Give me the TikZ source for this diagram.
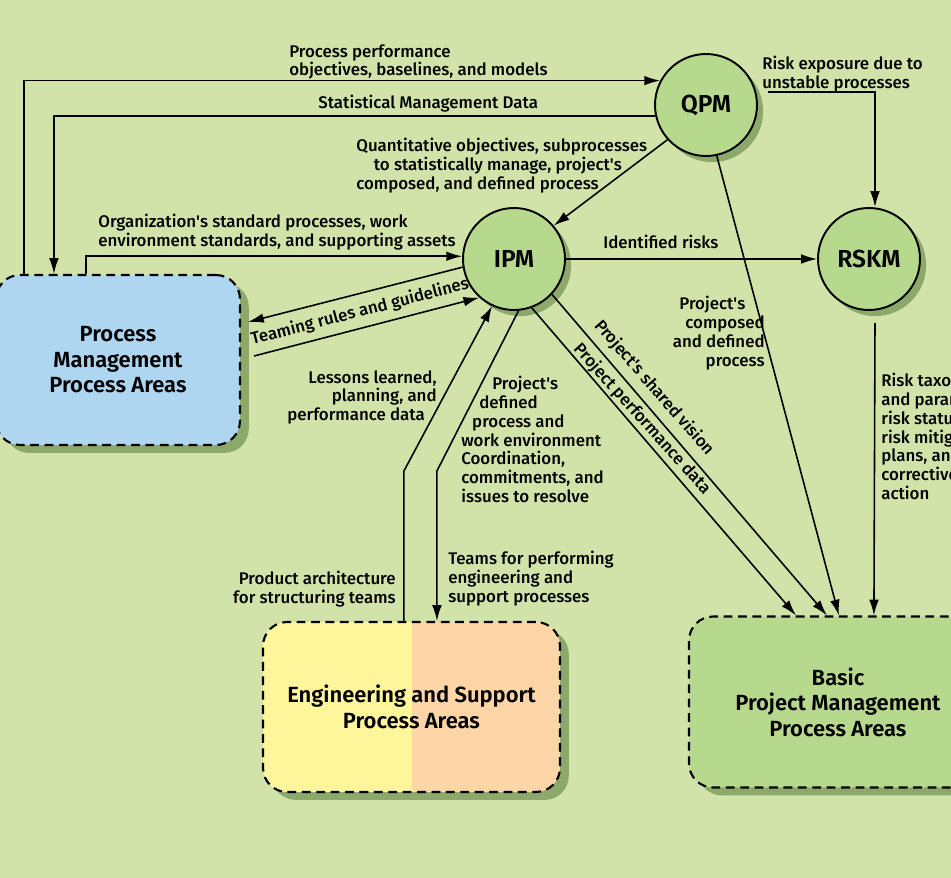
\documentclass[tikz,border=0pt]{standalone}
\usepackage{fontspec}
\setmainfont{Fira Sans}[UprightFont=* Medium, BoldFont=* SemiBold]
\usetikzlibrary{arrows.meta}
\usetikzlibrary{shadows}
\usetikzlibrary{calc}
\definecolor{bggreen}{HTML}{D1E3A9}
\definecolor{pagreen}{HTML}{B7D98E}
\definecolor{shadegreen}{HTML}{8CA96B}
\definecolor{pablue}{HTML}{AED6F0}
\definecolor{payellow}{HTML}{FFF59B}
\definecolor{papeach}{HTML}{FDD5A6}
\newcommand{\ap}{\textquotesingle}
\tikzset{>={Latex[length=9pt,width=5.5pt]}}
\tikzset{pa/.style = {shape=circle,draw,line width=1.1pt,fill=pagreen,minimum size=2.04cm,inner sep=0pt,
  font=\fontsize{14}{16}\selectfont\bfseries,
  drop shadow={shadow xshift=3.5pt,shadow yshift=-3.5pt,fill=shadegreen,opacity=1}}}
\tikzset{area/.style = {rectangle,draw,line width=1.2pt,dash pattern=on 5pt off 3.2pt,rounded corners=0.48cm,
  align=center,font=\fontsize{12.5}{14.5}\selectfont\bfseries,
  drop shadow={shadow xshift=5pt,shadow yshift=-4.5pt,fill=shadegreen,opacity=1}}}
\tikzset{info/.style = {inner sep=0pt,font=\fontsize{9.6}{10.7}\selectfont}}
\tikzset{flow/.style = {->,line width=0.9pt}}

\begin{document}
\begin{tikzpicture}[x=0.02cm,y=-0.02cm]
    \useasboundingbox (0,0) rectangle (951,878);
    \clip (0,0) rectangle (951,878);
    \fill[bggreen] (0,0) rectangle (951,878);

    \node[pa] (QPM) at (706,105) {QPM};
    \node[pa] (IPM) at (514,259) {IPM};
    \node[pa] (RSKM) at (869,259) {RSKM};

    \node[area,fill=pablue,minimum width=4.88cm,minimum height=3.4cm] (PMPA) at (118,360) {Process\\Management\\Process Areas};
    \node[area,minimum width=5.94cm,minimum height=3.4cm,
      path picture={\fill[payellow,sharp corners] (path picture bounding box.south west) rectangle (path picture bounding box.north);
                    \fill[papeach,sharp corners] (path picture bounding box.south) rectangle (path picture bounding box.north east);}]
      (ESPA) at (411.5,707) {Engineering and Support\\Process Areas};
    \node[area,fill=pagreen,minimum width=5.96cm,minimum height=3.42cm] (BPMPA) at (838,702) {Basic\\Project Management\\Process Areas};

    \coordinate (RE) at (768,92);

    \draw[flow] ([xshift=0.58cm]PMPA.north west) |- (QPM.152);
    \draw[flow] (QPM.192) -| ([xshift=1.18cm]PMPA.north west);
    \draw[flow] ([xshift=1.82cm]PMPA.north west) |- (IPM.177);
    \draw[flow] (QPM.222) -- (IPM.40);
    \draw[flow] (IPM.east) -- (RSKM.west);
    \draw[flow] (RE) -| ([xshift=0.12cm]RSKM.north);
    \draw[flow] ([xshift=0.12cm,yshift=-0.24cm]RSKM.south) -- ([xshift=3.72cm]BPMPA.north west);
    \draw[flow] (QPM.-78) -- ([xshift=3.02cm]BPMPA.north west);
    \draw[flow] (IPM.-43) -- ([xshift=2.78cm]BPMPA.north west);
    \draw[flow] (IPM.-70) -- ([xshift=2.16cm]BPMPA.north west);
    \draw[flow] (IPM.189) -- ([xshift=0.14cm,yshift=0.76cm]PMPA.east);
    \draw[flow] ([xshift=0.26cm,yshift=0.08cm]PMPA.east) -- (IPM.228);
    \draw[flow] ([xshift=2.84cm]ESPA.north west) -- ++(0,-150) -- (IPM.245);
    \draw[flow] (IPM.-85) -- ([xshift=3.5cm,yshift=3cm]ESPA.north west) -- ([xshift=3.5cm]ESPA.north west);

    \node[info,anchor=north west,align=left] (ppo) at (289,44) {Process performance\\objectives, baselines, and models};
    \node[info,anchor=north west] (smd) at (318,95) {Statistical Management Data};
    \node[info,anchor=north west,align=left] (qo) at (356,138) {Quantitative objectives, subprocesses\\\hspace*{10pt}to statistically manage, project\ap{}s\\composed, and defined process};
    \node[info,anchor=north west,align=left] (osp) at (98,214) {Organization\ap{}s standard processes, work\\environment standards, and supporting assets};
    \node[info,anchor=north west] (ir) at (603,235) {Identified risks};
    \node[info,anchor=north west,align=left] (reu) at (762,56) {Risk exposure due to\\unstable processes};
    \node[info,rotate=14.5] (trg) at (360,312) {Teaming rules and guidelines};
    \node[info,anchor=north east,align=right] (llp) at (437,370) {Lessons learned,\\planning, and\hspace*{2.8pt}\\performance data\hspace*{6.8pt}};
    \node[info,anchor=north west,align=left] (pdp) at (461,376) {\hspace*{17.6pt}Project\ap{}s\\\hspace*{10.2pt}defined\\\hspace*{6.2pt}process and\\work environment\\Coordination,\\commitments, and\\issues to resolve};
    \node[info,anchor=north west,align=left] (tfp) at (448,551) {Teams for performing\\engineering and\\support processes};
    \node[info,anchor=north east,align=right] (pas) at (396,571) {Product architecture\\for structuring teams};
    \node[info,anchor=north east,align=right] (pcd) at (765,296) {Project\ap{}s\hspace*{11pt}\\composed\hspace*{7pt}\\and defined\hspace*{3.5pt}\\process};
    \node[info,anchor=north west,align=left] (rtp) at (881,373) {Risk taxonomies\\and parameters,\\risk status,\\risk mitigation\\plans, and\\corrective\\action};
    \node[info,rotate=-49] (psv) at (654,388) {Project\ap{}s shared vision};
    \node[info,rotate=-48] (ppd) at (642,419) {Project performance data};
\end{tikzpicture}
\end{document}
